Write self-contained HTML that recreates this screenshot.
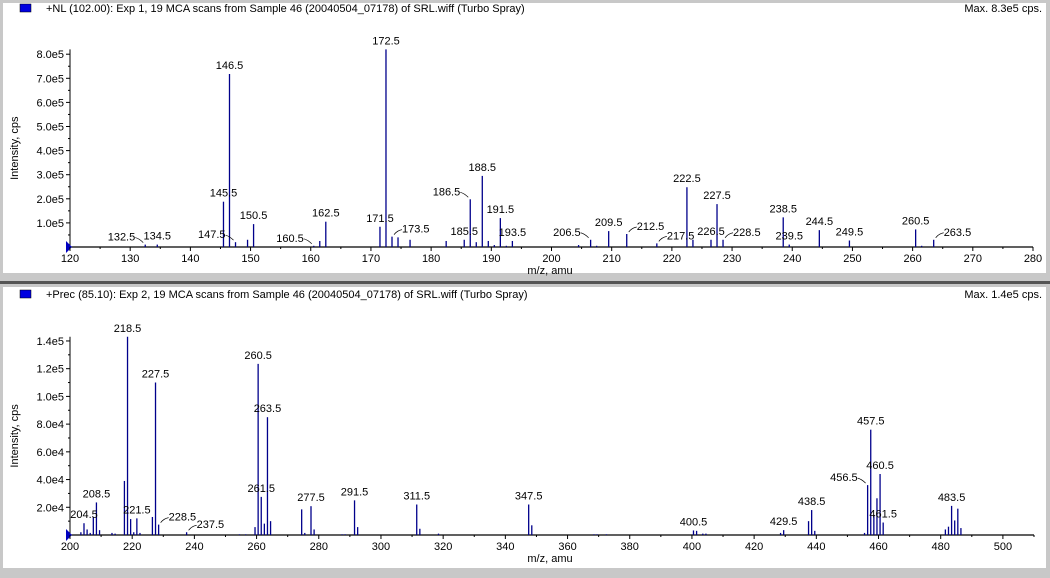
<!DOCTYPE html>
<html><head><meta charset="utf-8"><style>
body{margin:0;width:1050px;height:573px;background:#c8c8c8;overflow:hidden;font-family:"Liberation Sans",Arial,sans-serif}
svg text{font-family:"Liberation Sans",Arial,sans-serif;font-size:11px;fill:#000}
</style></head><body>
<svg id="chart" width="1050" height="573" xmlns="http://www.w3.org/2000/svg">
<rect x="0" y="0" width="1050" height="573" fill="#c8c8c8"/>
<rect x="0" y="281" width="1050" height="3" fill="#555"/>
<rect x="3" y="3" width="1043" height="270" fill="#fff"/>
<rect x="3" y="287" width="1043" height="281" fill="#fff"/>
<g id="g1"></g><g id="g2"></g>
</svg>
<script>
// Top spectrum (NL 102.00): m/z and intensity (x1e5 cps)
const topMz=[132.5,134.5,145.5,146.5,147.5,149.5,150.5,160.5,161.5,162.5,171.5,172.5,173.5,174.5,176.5,182.5,185.5,186.5,187.5,188.5,189.5,190.5,191.5,192.5,193.5,204.5,206.5,207.5,209.5,212.5,217.5,222.5,223.5,226.5,227.5,228.5,238.5,239.5,244.5,249.5,260.5,261.5,263.5];
const topInt=[0.1,0.1,1.88,7.18,0.2,0.3,0.95,0.05,0.25,1.05,0.84,8.2,0.43,0.4,0.3,0.25,0.3,1.98,0.2,2.95,0.25,0.08,1.2,0.05,0.25,0.08,0.3,0.05,0.66,0.54,0.15,2.48,0.3,0.3,1.78,0.3,1.23,0.1,0.7,0.27,0.73,0.05,0.3];
const topLabels=["132.5","134.5","145.5","146.5","147.5","150.5","160.5","162.5","171.5","172.5","173.5","185.5","186.5","188.5","191.5","193.5","206.5","209.5","212.5","217.5","222.5","226.5","227.5","228.5","238.5","239.5","244.5","249.5","260.5","263.5"];
const topSide={"132.5":"L","147.5":"L","160.5":"L","173.5":"R","186.5":"L","206.5":"L","212.5":"R","217.5":"R","228.5":"R","263.5":"R"};
const topXTicks=[120,130,140,150,160,170,180,190,200,210,220,230,240,250,260,270,280];
const topYTicks=[1,2,3,4,5,6,7,8];
const topYLabels=["1.0e5","2.0e5","3.0e5","4.0e5","5.0e5","6.0e5","7.0e5","8.0e5"];
// Bottom spectrum (Prec 85.10): intensity (x1e4 cps)
const botMz=[203.5,204.5,205.5,206.5,207.5,208.5,209.5,213.5,214.5,217.5,218.5,219.5,220.5,221.5,222.5,226.5,227.5,228.5,237.5,254.5,256.5,259.5,260.5,261.5,262.5,263.5,264.5,274.5,275.5,277.5,278.5,287.5,288.5,291.5,292.5,311.5,312.5,318.5,347.5,348.5,368.5,369.5,372.5,400.5,401.5,403.5,404.5,428.5,429.5,437.5,438.5,439.5,455.5,456.5,457.5,458.5,459.5,460.5,461.5,481.5,482.5,483.5,484.5,485.5,486.5];
const botInt=[0.2,0.85,0.4,0.15,1.3,2.35,0.35,0.15,0.1,3.9,14.3,1.15,0.2,1.2,0.15,1.3,11.0,0.75,0.2,0.05,0.05,0.57,12.35,2.75,0.82,8.5,1.0,1.85,0.15,2.08,0.4,0.05,0.05,2.5,0.57,2.2,0.45,0.1,2.2,0.7,0.05,0.05,0.05,0.33,0.3,0.1,0.1,0.15,0.35,1.0,1.8,0.3,0.15,3.6,7.6,1.45,2.65,4.4,0.9,0.4,0.6,2.1,1.05,1.9,0.5];
const botLabels=["204.5","208.5","218.5","221.5","227.5","228.5","237.5","260.5","261.5","263.5","277.5","291.5","311.5","347.5","400.5","429.5","438.5","456.5","457.5","460.5","461.5","483.5"];
const botSide={"228.5":"R","237.5":"R","456.5":"L"};
const botXTicks=[200,220,240,260,280,300,320,340,360,380,400,420,440,460,480,500];
const botYTicks=[2,4,6,8,10,12,14];
const botYLabels=["2.0e4","4.0e4","6.0e4","8.0e4","1.0e5","1.2e5","1.4e5"];

const NS="http://www.w3.org/2000/svg";
function mk(parent,tag,attrs,text){const e=document.createElementNS(NS,tag);for(const k in attrs)e.setAttribute(k,attrs[k]);if(text!=null)e.textContent=text;parent.appendChild(e);return e;}

function panel(g,cfg){
  const X=v=>cfg.x0+(v-cfg.xmin)*(cfg.x1-cfg.x0)/(cfg.xmax-cfg.xmin);
  const Y=v=>cfg.base-v*cfg.yk;
  let e=mk(g,'rect',{x:20,y:cfg.top+1,width:11,height:8,fill:'#0000e0',stroke:'#000','stroke-width':0.5});
  
  
  e=mk(g,'text',{x:46,y:cfg.top+9,'font-size':'9.5px'},cfg.title);
  
  
  e=mk(g,'text',{x:1042,y:cfg.top+9,'text-anchor':'end','font-size':'9.5px'},cfg.max);
  
  
  e=mk(g,'line',{x1:cfg.x0,y1:cfg.base,x2:cfg.x1,y2:cfg.base,stroke:'#000','stroke-width':1.2});
  
  
  e=mk(g,'line',{x1:cfg.x0,y1:cfg.base,x2:cfg.x0,y2:Y(cfg.ytop),stroke:'#000','stroke-width':1});
  
  
  e=mk(g,'path',{d:`M${cfg.x0-4},${cfg.base-6} L${cfg.x0+2},${cfg.base} L${cfg.x0-4},${cfg.base+6} Z`,fill:'#0000c0'});
  
  
  const step=cfg.xTicks[1]-cfg.xTicks[0];
  for(let v=cfg.xmin;v<=cfg.xmax+0.01;v+=step/2){
    const maj=cfg.xTicks.includes(v);
    mk(g,'line',{x1:X(v),y1:cfg.base,x2:X(v),y2:cfg.base+(maj?4:2),stroke:'#000'});
  }
  cfg.xTicks.forEach(v=>{
    e=mk(g,'text',{x:X(v),y:cfg.base+15,'text-anchor':'middle'},String(v));
    
    
  });
  const ys=cfg.yTicks[0];
  for(let v=ys/2;v<=cfg.ytop;v+=ys/2){
    const maj=cfg.yTicks.some(t=>Math.abs(t-v)<1e-6);
    mk(g,'line',{x1:cfg.x0-(maj?4:2),y1:Y(v),x2:cfg.x0,y2:Y(v),stroke:'#000'});
  }
  cfg.yTicks.forEach((v,i)=>{
    e=mk(g,'text',{x:cfg.x0-6,y:Y(v)+4,'text-anchor':'end'},cfg.yLabels[i]);
    
    
  });
  e=mk(g,'text',{x:0,y:0,'text-anchor':'middle','font-size':'12px',transform:`translate(18,${(cfg.base+Y(cfg.ytop))/2}) rotate(-90)`},'Intensity, cps');
  
  
  e=mk(g,'text',{x:550,y:cfg.base+27,'text-anchor':'middle','font-size':'9.5px'},'m/z, amu');
  
  
  cfg.mz.forEach((m,i)=>{
    const b=mk(g,'line',{x1:X(m),y1:cfg.base,x2:X(m),y2:Y(cfg.int[i]),stroke:'#00008b','stroke-width':1.3});
    
    
  });
  cfg.labels.forEach(l=>{
    const m=parseFloat(l);const i=cfg.mz.indexOf(m);const top=Y(cfg.int[i]);
    const side=cfg.side[l];let t;
    if(side==='L'){
      mk(g,'path',{d:`M${X(m)-10},${top-7} q4,1 8,5`,fill:'none',stroke:'#000','stroke-width':0.7});
      t=mk(g,'text',{x:X(m)-10,y:top-4,'text-anchor':'end'},l);
    }else if(side==='R'){
      mk(g,'path',{d:`M${X(m)+2},${top-2} q3,-4 8,-5`,fill:'none',stroke:'#000','stroke-width':0.7});
      t=mk(g,'text',{x:X(m)+10,y:top-4,'text-anchor':'start'},l);
    }else{
      t=mk(g,'text',{x:X(m),y:top-5,'text-anchor':'middle'},l);
    }
    
    
  });
}
panel(document.getElementById('g1'),{top:3,title:'+NL (102.00): Exp 1, 19 MCA scans from Sample 46 (20040504_07178) of SRL.wiff (Turbo Spray)',max:'Max. 8.3e5 cps.',
  x0:70,x1:1033,xmin:120,xmax:280,base:247,yk:24.1,ytop:8.2,mz:topMz,int:topInt,labels:topLabels,side:topSide,xTicks:topXTicks,yTicks:topYTicks,yLabels:topYLabels});
panel(document.getElementById('g2'),{top:289,title:'+Prec (85.10): Exp 2, 19 MCA scans from Sample 46 (20040504_07178) of SRL.wiff (Turbo Spray)',max:'Max. 1.4e5 cps.',
  x0:70,x1:1034,xmin:200,xmax:510,base:535,yk:13.86,ytop:14.3,mz:botMz,int:botInt,labels:botLabels,side:botSide,xTicks:botXTicks,yTicks:botYTicks,yLabels:botYLabels});
</script>
</body></html>
